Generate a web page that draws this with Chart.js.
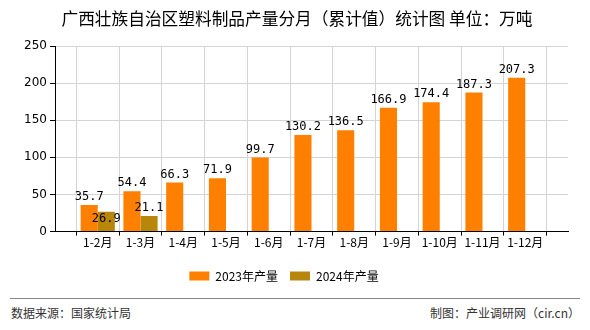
<!DOCTYPE html>
<html>
<head>
<meta charset="utf-8">
<script src="https://cdn.jsdelivr.net/npm/chart.js@4/dist/chart.umd.min.js"></script>
<style>
  html, body { margin: 0; padding: 0; background: #fff; }
  #wrap { position: relative; width: 590px; height: 330px; font-family: 'Noto Sans CJK SC', sans-serif; }
  #title { position: absolute; left: 0; top: 8px; width: 594px; text-align: center; font-size: 16.7px; line-height: 20px; color: #000; }
  #chartBox { position: absolute; left: 0; top: 0; width: 590px; height: 292px; }
  #rule { position: absolute; left: 10px; top: 298px; width: 570px; height: 0; border-top: 1px solid #888; }
  .foot { position: absolute; top: 305px; font-size: 12px; color: #333; line-height: 16px; }
  #src { left: 11px; }
  #maker { right: 10px; }
</style>
</head>
<body>
<div id="wrap">
  <div id="chartBox"><canvas id="chart"></canvas></div>
  <div id="title">广西壮族自治区塑料制品产量分月（累计值）统计图 单位：万吨</div>
  <div id="rule"></div>
  <div class="foot" id="src">数据来源：国家统计局</div>
  <div class="foot" id="maker">制图：产业调研网（cir.cn）</div>
</div>
<script>
const months = ['1-2月', '1-3月', '1-4月', '1-5月', '1-6月', '1-7月', '1-8月', '1-9月', '1-10月', '1-11月', '1-12月'];
const output2023 = [35.7, 54.4, 66.3, 71.9, 99.7, 130.2, 136.5, 166.9, 174.4, 187.3, 207.3];
const output2024 = [26.9, 21.1];
const yTicks = [0, 50, 100, 150, 200, 250];

const cjk = "'Noto Sans CJK SC', sans-serif";

// categories sit on the grid lines, so pad one empty slot on each side
const labels = [''].concat(months, ['']);
function padded(values) {
  const out = [null];
  months.forEach((_m, i) => out.push(i < values.length ? values[i] : null));
  out.push(null);
  return out;
}

const valueLabels = {
  id: 'valueLabels',
  afterDatasetsDraw(chart) {
    const ctx = chart.ctx;
    ctx.save();
    ctx.font = "12px 'DejaVu Sans Mono', monospace";
    ctx.fillStyle = '#000';
    ctx.textAlign = 'center';
    ctx.textBaseline = 'bottom';
    const placed = [];
    chart.data.datasets.forEach((ds, di) => {
      const meta = chart.getDatasetMeta(di);
      meta.data.forEach((bar, i) => {
        const v = ds.data[i];
        if (v == null) return;
        const text = v.toFixed(1);
        const w = ctx.measureText(text).width;
        const h = 12;
        let bottom = bar.y - 2;
        let box = { l: bar.x - w / 2, r: bar.x + w / 2, t: bottom - h, b: bottom };
        const hit = placed.some((p) => box.l < p.r && box.r > p.l && box.t < p.b && box.b > p.t);
        if (hit) {
          bottom = bar.y + h + 1;
          box = { l: bar.x - w / 2, r: bar.x + w / 2, t: bottom - h, b: bottom };
        }
        placed.push(box);
        ctx.fillText(text, bar.x, bottom);
      });
    });
    ctx.restore();
  },
};

new Chart(document.getElementById('chart'), {
  type: 'bar',
  data: {
    labels,
    datasets: [
      { label: '2023年产量', data: padded(output2023), backgroundColor: '#ff8000', categoryPercentage: 0.8, barPercentage: 1 },
      { label: '2024年产量', data: padded(output2024), backgroundColor: '#b8860b', categoryPercentage: 0.8, barPercentage: 1 },
    ],
  },
  options: {
    responsive: true,
    maintainAspectRatio: false,
    animation: false,
    layout: { padding: { left: 0, right: 22, top: 46, bottom: 0 } },
    plugins: {
      title: { display: false },
      legend: {
        position: 'bottom',
        labels: { color: '#000', boxWidth: 20, boxHeight: 9, padding: 12, font: { family: cjk, size: 12 } },
      },
      tooltip: { enabled: false },
    },
    scales: {
      x: {
        offset: false,
        afterFit(axis) { axis.height += 8; },
        grid: { color: '#d4d4d4', tickColor: '#000', tickLength: 4 },
        border: { color: '#000' },
        ticks: { color: '#000', maxRotation: 0, autoSkip: false, font: { family: cjk, size: 12 }, padding: 0 },
      },
      y: {
        min: yTicks[0],
        max: yTicks[yTicks.length - 1],
        afterBuildTicks(axis) { axis.ticks = yTicks.map((v) => ({ value: v })); },
        afterFit(axis) { axis.width = 55; },
        grid: { color: '#d4d4d4', tickColor: '#000', tickLength: 5 },
        border: { color: '#000' },
        ticks: { color: '#000', font: { family: "'DejaVu Sans', sans-serif", size: 12 }, padding: 3 },
      },
    },
  },
  plugins: [valueLabels],
});
</script>
</body>
</html>
